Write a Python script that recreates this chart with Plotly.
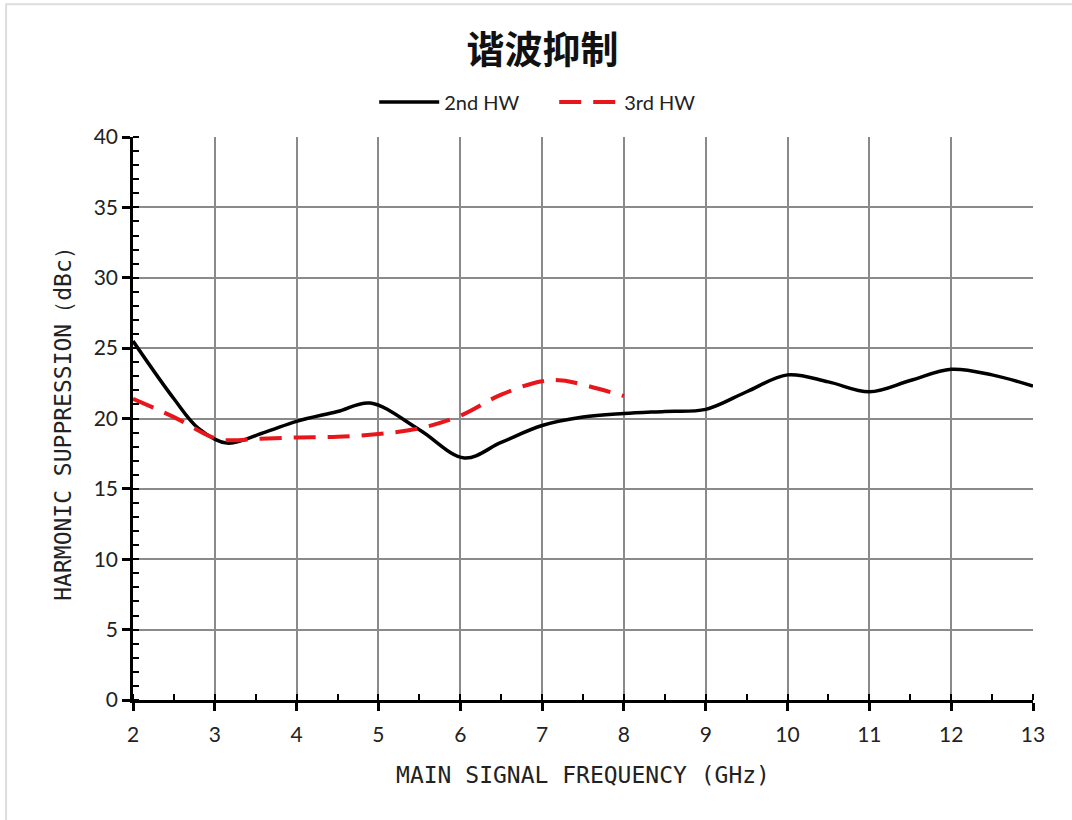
import plotly.graph_objects as go

# Main signal frequency (GHz) and harmonic suppression (dBc) per harmonic
freq_2nd = [2.0, 2.5, 2.8, 3.15, 3.6, 4.0, 4.5, 4.9, 5.5, 6.05,
            6.5, 7.0, 7.5, 8.0, 8.5, 9.0, 9.5, 10.0, 10.5, 11.0, 11.5, 12.0, 12.5, 13.0]
hw_2nd = [25.5, 21.4, 19.3, 18.25, 19.0, 19.8, 20.5, 21.1, 19.2, 17.2,
          18.3, 19.5, 20.1, 20.35, 20.5, 20.65, 21.9, 23.1, 22.6, 21.9, 22.7, 23.5, 23.1, 22.3]

freq_3rd = [2.0, 2.5, 3.0, 3.2, 3.5, 4.0, 4.5, 5.0, 5.5, 6.0, 6.5, 7.0, 7.25, 7.5, 8.0]
hw_3rd = [21.4, 20.1, 18.6, 18.45, 18.55, 18.65, 18.7, 18.9, 19.3, 20.2, 21.7, 22.65, 22.7, 22.4, 21.6]

x_ticks = list(range(2, 14))
y_ticks = list(range(0, 41, 5))

title_text = "谐波抑制"
x_title = "MAIN SIGNAL FREQUENCY (GHz)"
y_title = "HARMONIC SUPPRESSION（dBc）"

fig = go.Figure()
fig.add_trace(go.Scatter(
    x=freq_2nd, y=hw_2nd, name="2nd HW", mode="lines",
    line=dict(color="#000000", width=3.5, shape="spline", smoothing=1.0),
))
fig.add_trace(go.Scatter(
    x=freq_3rd, y=hw_3rd, name="3rd HW", mode="lines",
    line=dict(color="#e8161b", width=4, dash="22px,12px", shape="spline", smoothing=1.0),
))

tick_font = dict(family="Lato, Open Sans, sans-serif", size=21, color="#222222")
axis_title_font = dict(family="DejaVu Sans Mono, monospace", size=23, color="#222222")

fig.update_xaxes(
    range=[2, 13], tickvals=x_ticks, ticktext=[str(v) for v in x_ticks],
    showgrid=True, gridcolor="#8a8a8a", gridwidth=1.5,
    showline=True, linecolor="#000000", linewidth=2.5,
    ticks="outside", ticklen=8, tickwidth=2.5, tickcolor="#000000",
    minor=dict(dtick=0.5, ticks="inside", ticklen=6, tickwidth=1.5,
               tickcolor="#000000", showgrid=False),
    tickfont=tick_font, zeroline=False, ticklabelstandoff=6,
    title=dict(text=x_title, font=axis_title_font, standoff=22),
)
fig.update_yaxes(
    range=[0, 40], tickvals=y_ticks, ticktext=[str(v) for v in y_ticks],
    showgrid=True, gridcolor="#8a8a8a", gridwidth=1.5,
    showline=True, linecolor="#000000", linewidth=2.5,
    ticks="outside", ticklen=8, tickwidth=2.5, tickcolor="#000000",
    minor=dict(dtick=1, ticks="inside", ticklen=6, tickwidth=1.5,
               tickcolor="#000000", showgrid=False),
    tickfont=tick_font, zeroline=False,
    title=dict(text=y_title, font=axis_title_font, standoff=16),
)

# outer frame on the top and left of the page
fig.add_shape(type="rect", xref="paper", yref="paper",
              x0=-0.141, x1=1.2, y0=-0.4, y1=1.236,
              line=dict(color="#dddddd", width=2), fillcolor="rgba(0,0,0,0)",
              layer="below")

fig.update_layout(
    width=1072, height=820,
    margin=dict(l=133, r=39, t=137, b=120),
    paper_bgcolor="#ffffff", plot_bgcolor="#ffffff",
    title=dict(text=title_text, x=0.506, xanchor="center", y=0.94, yanchor="middle",
               font=dict(family="Noto Sans CJK SC", size=38, color="#111111", weight="bold")),
    legend=dict(orientation="h", x=0.468, xanchor="center", y=1.062, yanchor="middle",
                font=dict(family="Lato, Open Sans, sans-serif", size=20, color="#222222"),
                bgcolor="rgba(0,0,0,0)", itemwidth=60,
                entrywidth=105, entrywidthmode="pixels"),
    showlegend=True,
)

fig.write_html("out.html")
